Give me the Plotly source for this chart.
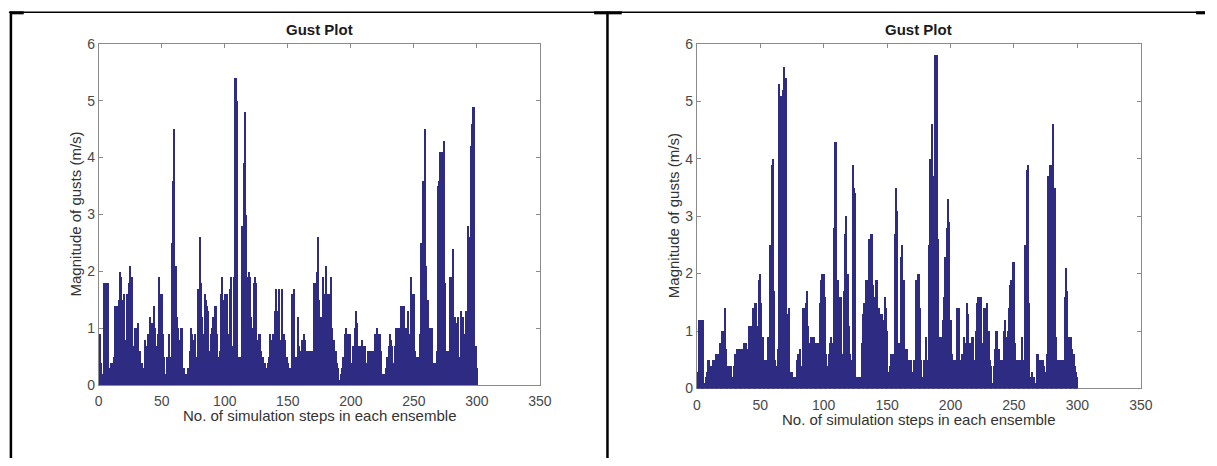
import plotly.graph_objects as go

W, H = 1217, 466

steps = list(range(1, 301))

gust_left = [
    0.9, 0.4, 0.2, 1.8, 1.8, 1.8, 1.8, 0.1, 0.3, 0.4,
    0.4, 0.5, 1.4, 1.4, 1.4, 1.5, 2.0, 1.9, 1.5, 1.6,
    0.8, 1.6, 1.1, 1.8, 2.1, 1.9, 0.2, 0.7, 1.0, 1.0,
    1.1, 0.4, 0.6, 0.4, 0.3, 0.3, 0.8, 0.7, 0.9, 0.9,
    1.2, 1.1, 0.9, 1.4, 1.0, 0.7, 0.9, 1.9, 1.6, 1.6,
    0.9, 0.5, 0.2, 0.5, 0.5, 0.9, 0.5, 2.5, 3.6, 4.5,
    2.1, 1.2, 1.0, 0.8, 1.0, 1.0, 0.3, 0.3, 0.2, 0.1,
    0.3, 0.6, 1.0, 0.9, 0.8, 0.9, 0.3, 0.5, 1.7, 2.6,
    1.8, 1.2, 0.9, 1.6, 1.5, 1.4, 1.3, 0.6, 0.9, 1.0,
    1.2, 1.4, 1.4, 0.9, 0.5, 0.6, 1.6, 1.9, 1.5, 1.6,
    1.6, 1.6, 0.9, 1.7, 1.9, 0.7, 1.9, 5.4, 5.4, 5.0,
    0.5, 0.5, 0.1, 2.8, 3.9, 4.8, 3.0, 1.9, 2.0, 1.9,
    1.2, 1.0, 1.8, 1.9, 1.8, 0.8, 0.9, 0.9, 0.6, 0.5,
    0.4, 0.4, 0.3, 0.4, 0.5, 0.9, 0.8, 0.9, 0.9, 1.3,
    1.7, 1.3, 1.7, 0.8, 1.7, 0.9, 0.9, 0.8, 0.5, 0.4,
    0.3, 0.3, 1.6, 1.6, 1.7, 0.5, 0.5, 1.2, 0.7, 0.6,
    0.8, 0.8, 0.9, 0.8, 0.6, 0.6, 0.6, 0.6, 0.6, 0.6,
    1.8, 1.8, 2.0, 2.6, 1.5, 1.2, 1.0, 1.9, 1.6, 2.1,
    1.4, 1.6, 1.6, 1.9, 1.0, 0.8, 0.8, 0.6, 0.4, 0.3,
    0.1, 0.2, 0.3, 0.5, 0.9, 1.0, 0.9, 0.9, 0.9, 0.4,
    0.4, 0.7, 1.0, 1.3, 1.1, 0.7, 0.7, 0.4, 0.8, 0.7,
    0.7, 0.3, 0.4, 0.6, 0.6, 0.5, 0.6, 0.6, 0.9, 0.9,
    1.0, 0.9, 0.9, 0.6, 0.2, 0.2, 0.2, 0.3, 0.5, 0.7,
    0.9, 0.8, 0.7, 0.4, 0.7, 1.0, 1.0, 1.0, 1.0, 1.4,
    1.4, 1.4, 0.5, 1.0, 1.3, 0.5, 0.9, 1.9, 1.6, 1.6,
    0.6, 0.5, 0.5, 0.5, 0.9, 2.5, 3.6, 3.6, 4.5, 2.1,
    1.5, 1.0, 1.0, 1.0, 0.4, 0.4, 0.4, 0.6, 3.5, 3.6,
    4.1, 4.1, 4.1, 4.3, 1.8, 0.6, 0.6, 0.6, 1.9, 1.9,
    2.4, 1.1, 1.2, 1.1, 1.2, 0.5, 1.3, 1.2, 1.2, 0.9,
    1.3, 1.3, 2.8, 2.6, 4.2, 4.6, 4.9, 4.9, 0.7, 0.3,
]

gust_right = [
    0.3, 1.2, 1.2, 1.2, 1.2, 0.1, 0.2, 0.3, 0.5, 0.5,
    0.4, 0.4, 0.5, 0.5, 0.6, 0.6, 0.6, 0.8, 0.8, 1.0,
    1.0, 1.4, 0.7, 0.4, 0.4, 0.4, 0.4, 0.2, 0.4, 0.6,
    0.6, 0.7, 0.7, 0.4, 0.7, 0.7, 0.8, 0.8, 0.8, 0.7,
    1.1, 1.1, 1.1, 1.4, 1.2, 1.5, 1.5, 1.1, 1.9, 2.0,
    1.5, 0.9, 0.2, 0.5, 0.5, 0.9, 0.5, 2.5, 3.9, 4.0,
    1.7, 0.5, 0.4, 0.7, 5.3, 5.1, 4.8, 5.2, 5.6, 5.4,
    1.2, 1.3, 1.4, 0.3, 0.3, 0.2, 0.2, 0.2, 0.5, 0.6,
    0.7, 0.4, 0.4, 1.4, 1.4, 1.5, 1.7, 1.1, 0.8, 0.9,
    0.9, 0.9, 0.8, 0.7, 0.8, 0.8, 1.5, 1.9, 2.0, 2.0,
    1.6, 0.6, 0.4, 0.6, 0.8, 0.9, 0.8, 2.8, 4.3, 4.3,
    1.9, 1.6, 1.6, 1.6, 0.6, 1.7, 2.7, 3.0, 2.0, 1.1,
    0.6, 0.5, 3.9, 3.5, 3.4, 0.2, 0.2, 0.2, 0.2, 0.8,
    1.3, 1.5, 1.9, 1.9, 1.9, 2.6, 2.7, 2.7, 1.8, 1.6,
    1.9, 1.9, 1.4, 1.4, 1.3, 1.3, 1.2, 1.6, 1.4, 1.0,
    0.3, 0.4, 0.6, 0.6, 0.6, 2.7, 3.5, 3.1, 0.8, 0.7,
    2.3, 2.5, 1.9, 0.7, 0.6, 0.7, 0.5, 0.5, 0.5, 0.3,
    0.5, 0.5, 1.9, 2.0, 2.0, 1.4, 0.5, 0.2, 0.5, 0.5,
    0.9, 0.5, 2.5, 4.0, 4.6, 3.2, 3.7, 5.8, 5.8, 2.6,
    0.7, 0.9, 0.9, 1.2, 1.6, 2.3, 2.8, 3.3, 2.9, 1.2,
    0.6, 0.3, 0.5, 0.5, 1.4, 1.4, 1.4, 0.5, 0.6, 0.5,
    0.9, 0.8, 1.5, 1.3, 0.8, 0.8, 0.9, 0.9, 0.5, 1.0,
    1.5, 1.6, 1.6, 1.6, 0.8, 1.4, 1.4, 1.4, 1.5, 1.0,
    0.5, 0.4, 0.1, 0.4, 0.7, 1.0, 1.0, 0.7, 0.4, 0.5,
    0.5, 1.0, 1.2, 0.9, 1.0, 1.4, 1.8, 1.9, 2.2, 2.2,
    0.8, 0.5, 0.5, 0.3, 0.5, 0.9, 0.5, 0.5, 2.5, 3.8,
    3.9, 1.5, 0.2, 0.3, 0.2, 0.2, 0.1, 0.6, 0.6, 0.5,
    0.5, 0.5, 0.5, 0.4, 0.3, 0.6, 3.7, 3.9, 3.9, 3.2,
    4.6, 3.5, 0.9, 0.2, 0.5, 0.5, 0.5, 0.5, 0.5, 1.6,
    2.1, 1.7, 0.9, 0.9, 0.9, 0.7, 0.6, 0.4, 0.3, 0.2,
]

x_ticks = [0, 50, 100, 150, 200, 250, 300, 350]
y_ticks = [0, 1, 2, 3, 4, 5, 6]
title_text = "Gust Plot"
x_title = "No. of simulation steps in each ensemble"
y_title = "Magnitude of gusts (m/s)"

BAR_COLOR = "#2E2B82"
FONT = "Liberation Sans, Arial, sans-serif"


def px(x):
    return x / W


def py(y):
    return 1 - y / H


fig = go.Figure()
for vals, xa, ya in [(gust_left, "x", "y"), (gust_right, "x2", "y2")]:
    fig.add_trace(go.Bar(x=steps, y=vals, width=1.15,
                         marker=dict(color=BAR_COLOR, line=dict(width=0)),
                         xaxis=xa, yaxis=ya, showlegend=False))

axis_common = dict(
    showgrid=False, zeroline=False, showline=True, linecolor="#8a8a8a", linewidth=1,
    mirror="ticks", ticks="inside", ticklen=4, tickcolor="#8a8a8a", tickwidth=1,
    tickfont=dict(family=FONT, size=14, color="#484848"), layer="below traces",
)

# panel geometry in pixels: (left, right, top, bottom)
panels = [(96, 543, 37, 390.5), (702, 1152, 37, 394)]

fig.update_layout(
    width=W, height=H, margin=dict(l=0, r=0, t=0, b=0),
    paper_bgcolor="white", plot_bgcolor="white",
    bargap=0,
    xaxis=dict(domain=[px(panels[0][0]), px(panels[0][1])], range=[0, 350], tickvals=x_ticks,
               anchor="y", ticklabelstandoff=3, **axis_common),
    yaxis=dict(domain=[py(panels[0][3]), py(panels[0][2])], range=[0, 6], tickvals=y_ticks,
               anchor="x", **axis_common),
    xaxis2=dict(domain=[px(panels[1][0]), px(panels[1][1])], range=[0, 350], tickvals=x_ticks,
                anchor="y2", ticklabelstandoff=4, **axis_common),
    yaxis2=dict(domain=[py(panels[1][3]), py(panels[1][2])], range=[0, 6], tickvals=y_ticks,
                anchor="x2", **axis_common),
)

annotations = []
xlab_y = [422, 426]
for i, (l, r, t, b) in enumerate(panels):
    cx = (l + r) / 2
    annotations.append(dict(text="<b>%s</b>" % title_text, x=px(cx), y=py(22), xref="paper", yref="paper",
                            showarrow=False, xanchor="center", yanchor="middle",
                            font=dict(family=FONT, size=15, color="#1a1a1a")))
    annotations.append(dict(text=x_title, x=px(cx), y=py(xlab_y[i]), xref="paper", yref="paper",
                            showarrow=False, xanchor="center", yanchor="middle",
                            font=dict(family=FONT, size=15, color="#333333")))
    annotations.append(dict(text=y_title, x=px(l - 24), y=py((t + b) / 2), xref="paper", yref="paper",
                            showarrow=False, xanchor="center", yanchor="middle", textangle=-90,
                            font=dict(family=FONT, size=15, color="#333333")))
fig.update_layout(annotations=annotations)

# table borders
shapes = []


def line(x0, y0, x1, y1, w):
    shapes.append(dict(type="line", xref="paper", yref="paper", x0=px(x0), y0=py(y0), x1=px(x1), y1=py(y1),
                       line=dict(color="black", width=w)))


line(5, 4.5, 1217, 4.5, 1.5)
line(7, 4, 7, 466, 2.5)
line(611.5, 4, 611.5, 466, 2.5)
line(6, 5, 20, 5, 3)
line(598, 5, 626, 5, 3)
line(1208, 5, 1217, 5, 3)
fig.update_layout(shapes=shapes)

fig.write_html("out.html")
